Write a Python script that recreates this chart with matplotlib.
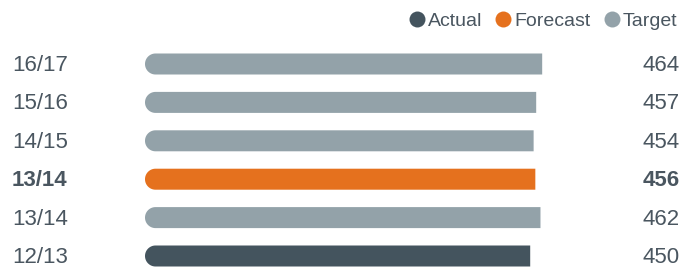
import numpy as np
import matplotlib.pyplot as plt
from matplotlib.lines import Line2D
from matplotlib.patches import Polygon
from matplotlib.transforms import blended_transform_factory

plt.rcParams['font.family'] = ['Liberation Sans', 'DejaVu Sans']

years = ["16/17", "15/16", "14/15", "13/14", "13/14", "12/13"]
values = [464, 457, 454, 456, 462, 450]
kinds = ["Target", "Target", "Target", "Forecast", "Target", "Actual"]

colors = {"Actual": "#44545e", "Forecast": "#e5711e", "Target": "#93a2a9"}
text_color = "#4a5660"

W, H = 694, 270
fig = plt.figure(figsize=(W / 100, H / 100), dpi=100)
ax = fig.add_axes([145 / W, 0, (680 - 145) / W, 1])

px_per_unit = 0.856
xmax = (680 - 145) / px_per_unit
row = 38.4
ax.set_xlim(0, xmax)
ax.set_ylim((H - 64) / row, -64 / row)

bar_h = 21 / row
cap = 10.5 / px_per_unit  # radius of round left end, in data units


def pill(v, yc, c):
    # bar with a rounded left end and a flat right end
    t = np.linspace(np.pi / 2, 3 * np.pi / 2, 40)
    arc = np.column_stack([cap + cap * np.cos(t), yc + bar_h / 2 * np.sin(t)])
    right = np.array([[v, yc - bar_h / 2], [v, yc + bar_h / 2]])
    pts = np.vstack([arc, right])
    return Polygon(pts, closed=True, facecolor=c, edgecolor='none')


left_tr = blended_transform_factory(fig.transFigure, ax.transData)
for i, (v, k) in enumerate(zip(values, kinds)):
    c = colors[k]
    ax.add_patch(pill(v, i, c))
    bold = 'bold' if k == "Forecast" else 'normal'
    ax.text(12 / W, i + 0.04, years[i], transform=left_tr,
            ha='left', va='center', fontsize=16, color=text_color, fontweight=bold)
    ax.text(1.0, i + 0.04, str(v), transform=ax.get_yaxis_transform(),
            ha='right', va='center', fontsize=16, color=text_color, fontweight=bold)

ax.axis('off')

handles = [Line2D([], [], marker='o', linestyle='none', markersize=11.5,
                  color=colors[k], markeredgewidth=0) for k in ["Actual", "Forecast", "Target"]]
leg = fig.legend(handles, ["Actual", "Forecast", "Target"], loc='upper right',
                 bbox_to_anchor=(677 / W, 1 - 12 / H), ncol=3, frameon=False,
                 fontsize=14, handlelength=0.7, handletextpad=0.2,
                 columnspacing=0.75, borderaxespad=0, borderpad=0)
for t in leg.get_texts():
    t.set_color(text_color)

fig.savefig("out.png", dpi=100)
